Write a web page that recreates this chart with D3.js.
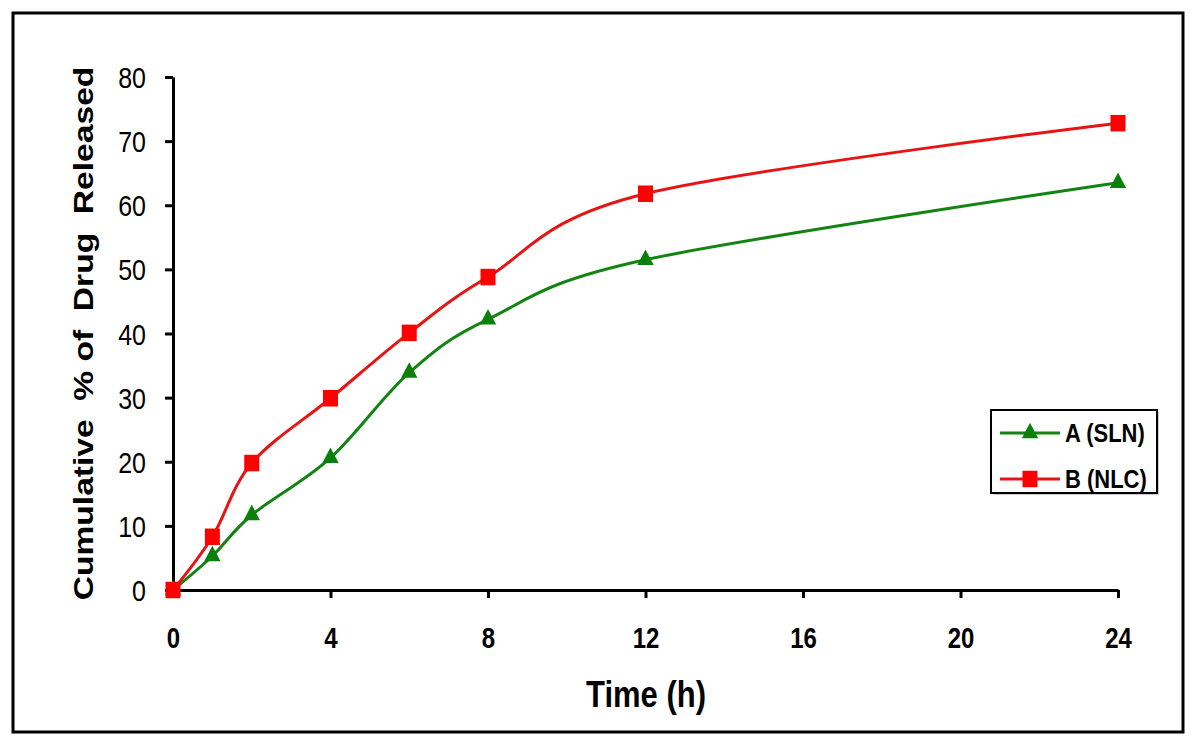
<!DOCTYPE html>
<html>
<head>
<meta charset="utf-8">
<script src="https://cdn.jsdelivr.net/npm/d3@7"></script>
<style>
  body { margin: 0; background: #fff; }
  svg { display: block; font-family: "Liberation Sans", Arial, sans-serif; }
</style>
</head>
<body>
<svg id="chart" width="1200" height="745"></svg>
<script>
// time points (h)
const times = [0, 1, 2, 4, 6, 8, 12, 24];
// cumulative % released
const slnValues = [0, 5.3, 11.7, 20.6, 33.9, 42.2, 51.5, 63.5];
const nlcValues = [0, 8.3, 19.8, 29.9, 40.1, 48.8, 61.8, 72.8];
const xTicks = [0, 4, 8, 12, 16, 20, 24];
const yTicks = [0, 10, 20, 30, 40, 50, 60, 70, 80];
const seriesNames = ['A (SLN)', 'B (NLC)'];

// the original figure's lettering is a bit taller than wide
const stretch = 1.2;

const svg = d3.select('#chart');

// outer frame
svg.append('rect')
  .attr('x', 13).attr('y', 13)
  .attr('width', 1170).attr('height', 719)
  .attr('fill', 'none')
  .attr('stroke', '#000')
  .attr('stroke-width', 3);

const x = d3.scaleLinear().domain([0, 24]).range([173, 1118]);
const y = d3.scaleLinear().domain([0, 80]).range([590, 77]);

const xAxis = svg.append('g')
  .attr('transform', `translate(0,${y(0)})`)
  .call(d3.axisBottom(x).tickValues(xTicks).tickSize(8).tickSizeOuter(0));
xAxis.select('.domain').attr('stroke-width', 3);
xAxis.selectAll('.tick line').attr('stroke-width', 3);
xAxis.selectAll('.tick text')
  .attr('y', 0).attr('dy', null)
  .attr('transform', `translate(0,58) scale(1,${stretch})`)
  .attr('font-size', 24).attr('font-weight', 'bold').attr('fill', '#000')
  .attr('font-family', '"Liberation Sans", Arial, sans-serif');

const yAxis = svg.append('g')
  .attr('transform', `translate(${x(0)},0)`)
  .call(d3.axisLeft(y).tickValues(yTicks).tickSize(8).tickSizeOuter(0));
yAxis.select('.domain').attr('stroke-width', 3);
yAxis.selectAll('.tick line').attr('stroke-width', 3);
yAxis.selectAll('.tick text')
  .attr('x', 0).attr('dy', '0.35em')
  .attr('transform', `translate(-27,0) scale(1,${stretch})`)
  .attr('font-size', 25).attr('fill', '#000')
  .attr('font-family', '"Liberation Sans", Arial, sans-serif');

// axis titles
svg.append('text')
  .attr('transform', `translate(646,707) scale(1,${stretch})`)
  .attr('text-anchor', 'middle')
  .attr('font-size', 31).attr('font-weight', 'bold')
  .text('Time (h)');

svg.append('text')
  .attr('transform', `translate(93,${(y(0) + y(80)) / 2}) rotate(-90) scale(${stretch},1)`)
  .attr('text-anchor', 'middle')
  .attr('font-size', 28).attr('font-weight', 'bold')
  .attr('xml:space', 'preserve')
  .style('white-space', 'pre')
  .text('Cumulative  % of  Drug  Released');

const line = d3.line()
  .x(d => x(d[0]))
  .y(d => y(d[1]))
  .curve(d3.curveCardinal.tension(0));

const series = [
  { name: seriesNames[0], values: slnValues, color: '#138413', fill: '#0a800a', marker: d3.symbolTriangle, size: 115 },
  { name: seriesNames[1], values: nlcValues, color: '#e81414', fill: '#ff0000', marker: d3.symbolSquare, size: 225 }
];

series.forEach(s => {
  const pts = times.map((t, i) => [t, s.values[i]]);
  svg.append('path')
    .datum(pts)
    .attr('d', line)
    .attr('fill', 'none')
    .attr('stroke', s.color)
    .attr('stroke-width', 3);
});

series.forEach(s => {
  const pts = times.map((t, i) => [t, s.values[i]]);
  svg.append('g').selectAll('path')
    .data(pts)
    .join('path')
    .attr('transform', d => `translate(${x(d[0])},${y(d[1])}) scale(1,1.1)`)
    .attr('d', d3.symbol().type(s.marker).size(s.size))
    .attr('fill', s.fill);
});

// legend
const legend = svg.append('g').attr('transform', 'translate(991,410)');
legend.append('rect')
  .attr('x', 2).attr('y', 2)
  .attr('width', 166).attr('height', 83)
  .attr('fill', '#ccc');
legend.append('rect')
  .attr('width', 166).attr('height', 83)
  .attr('fill', '#fff')
  .attr('stroke', '#000')
  .attr('stroke-width', 2);

series.forEach((s, i) => {
  const row = legend.append('g').attr('transform', `translate(0,${23 + i * 46})`);
  row.append('line')
    .attr('x1', 9).attr('x2', 69)
    .attr('stroke', s.color).attr('stroke-width', 3);
  row.append('path')
    .attr('transform', 'translate(39,0) scale(1,1.1)')
    .attr('d', d3.symbol().type(s.marker).size(s.size))
    .attr('fill', s.fill);
  row.append('text')
    .attr('transform', `translate(74,9) scale(1,${stretch})`)
    .attr('font-size', 22).attr('font-weight', 'bold')
    .text(s.name);
});
</script>
</body>
</html>
